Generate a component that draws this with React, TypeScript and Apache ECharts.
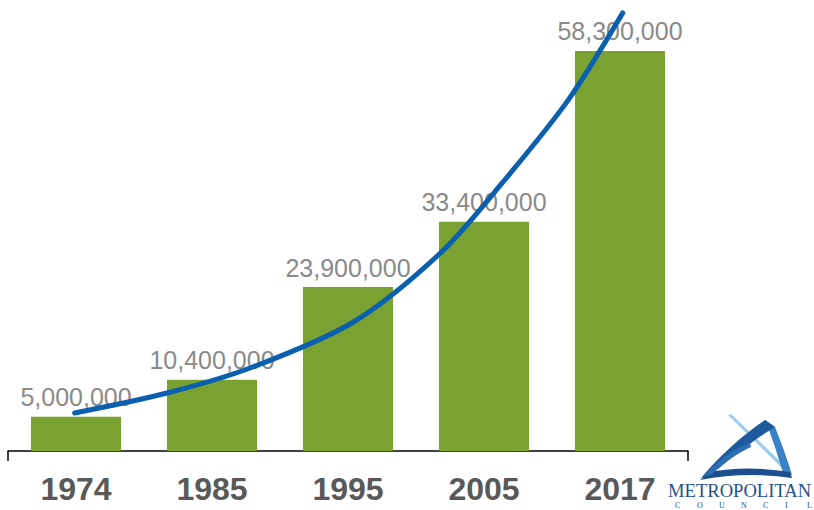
import React, { useEffect, useRef } from "react";
import * as echarts from "echarts";

const years = ["1974", "1985", "1995", "2005", "2017"];
const passengers = [5000000, 10400000, 23900000, 33400000, 58300000];
// trend curve, x in category units (0..5), y in passengers
const curveX = [0.49, 1.17, 1.8, 2.54, 3.18, 3.64, 4.12, 4.52];
const curveY = [5540000, 8450000, 12240000, 18800000, 28860000, 39210000, 51170000, 63850000];
const councilLetters = ["C", "O", "U", "N", "C", "I", "L"];

let shapesRegistered = false;
function registerShapes() {
  if (shapesRegistered) return;
  shapesRegistered = true;
  echarts.graphic.registerShape(
    "swooshLeft",
    echarts.graphic.extendPath(
      "M701,478 C720,455 744,434 765,420 L775,427 C752,441 729,459 711,475 Z",
      {}
    )
  );
  echarts.graphic.registerShape(
    "swooshRight",
    echarts.graphic.extendPath(
      "M765,420 L775,427 C781,442 787,458 792,475 L783,473 C778,456 772,437 765,420 Z",
      {}
    )
  );
  echarts.graphic.registerShape(
    "swooshBottom",
    echarts.graphic.extendPath(
      "M700,480 Q746,471 792,478 L790,472 Q746,465 710,472 Z",
      {}
    )
  );
  echarts.graphic.registerShape(
    "swooshInner",
    echarts.graphic.extendPath(
      "M705,476 C717,461 733,449 750,443 L751,447 C736,454 722,464 712,474 Z",
      {}
    )
  );
  echarts.graphic.registerShape(
    "swooshStreak",
    echarts.graphic.extendPath(
      "M728,415 L731,414 L786,467 L782,468 Z",
      {}
    )
  );
}

export default function App() {
  const ref = useRef<HTMLDivElement>(null);
  useEffect(() => {
    if (!ref.current) return;
    registerShapes();
    const chart = echarts.init(ref.current, undefined, { renderer: "svg" });
    const logoElements: any[] = [
      { type: "swooshStreak", style: { fill: "#9ccbec" } },
      { type: "swooshRight", style: { fill: "#3a82c6" } },
      { type: "swooshBottom", style: { fill: "#1b4f8f" } },
      { type: "swooshLeft", style: { fill: "#1d5a9e" } },
      { type: "swooshInner", style: { fill: "#2d6fb4" } },
      {
        type: "text",
        x: 668,
        y: 500,
        style: {
          text: "METROPOLITAN",
          fill: "#1f4f8e",
          font: "18.6px 'Liberation Serif', serif",
          textVerticalAlign: "bottom",
        },
      },
      ...councilLetters.map((l, i) => ({
        type: "text",
        x: 675 + i * 22,
        y: 501,
        style: {
          text: l,
          fill: "#1f4f8e",
          font: "8px 'Liberation Serif', serif",
        },
      })),
    ];
    chart.setOption({
      animation: false,
      grid: { left: 8, right: 126, top: 5, bottom: 59, containLabel: false },
      xAxis: [
        {
          type: "category",
          data: years,
          boundaryGap: true,
          axisLine: { lineStyle: { color: "#000", width: 1.5 } },
          axisTick: {
            show: true,
            length: 10,
            interval: (index: number) => index === 0,
            lineStyle: { color: "#000", width: 1.5 },
          },
          axisLabel: {
            color: "#595959",
            fontSize: 32,
            fontWeight: "bold",
            fontFamily: "'Liberation Sans', Arial, sans-serif",
            margin: 22,
          },
        },
        { type: "value", min: 0, max: 5, show: false },
      ],
      yAxis: {
        type: "value",
        min: 0,
        max: 65000000,
        show: false,
        splitLine: { show: false },
      },
      series: [
        {
          type: "bar",
          data: passengers,
          barWidth: 90,
          itemStyle: { color: "#79a232" },
          label: {
            show: true,
            position: "top",
            distance: 7,
            color: "#8a8a8a",
            fontSize: 25,
            fontFamily: "'Liberation Sans', Arial, sans-serif",
            formatter: (p: any) => Number(p.value).toLocaleString("en-US"),
          },
          z: 2,
        },
        {
          type: "line",
          xAxisIndex: 1,
          data: curveX.map((x, i) => [x, curveY[i]]),
          smooth: 0.3,
          symbol: "none",
          lineStyle: { color: "#0a5fae", width: 5, cap: "round" },
          z: 5,
        },
      ],
      graphic: { elements: logoElements },
    });
    return () => chart.dispose();
  }, []);
  return (
    <div
      ref={ref}
      style={{ position: "absolute", left: 0, top: 0, width: 814, height: 510 }}
    />
  );
}
